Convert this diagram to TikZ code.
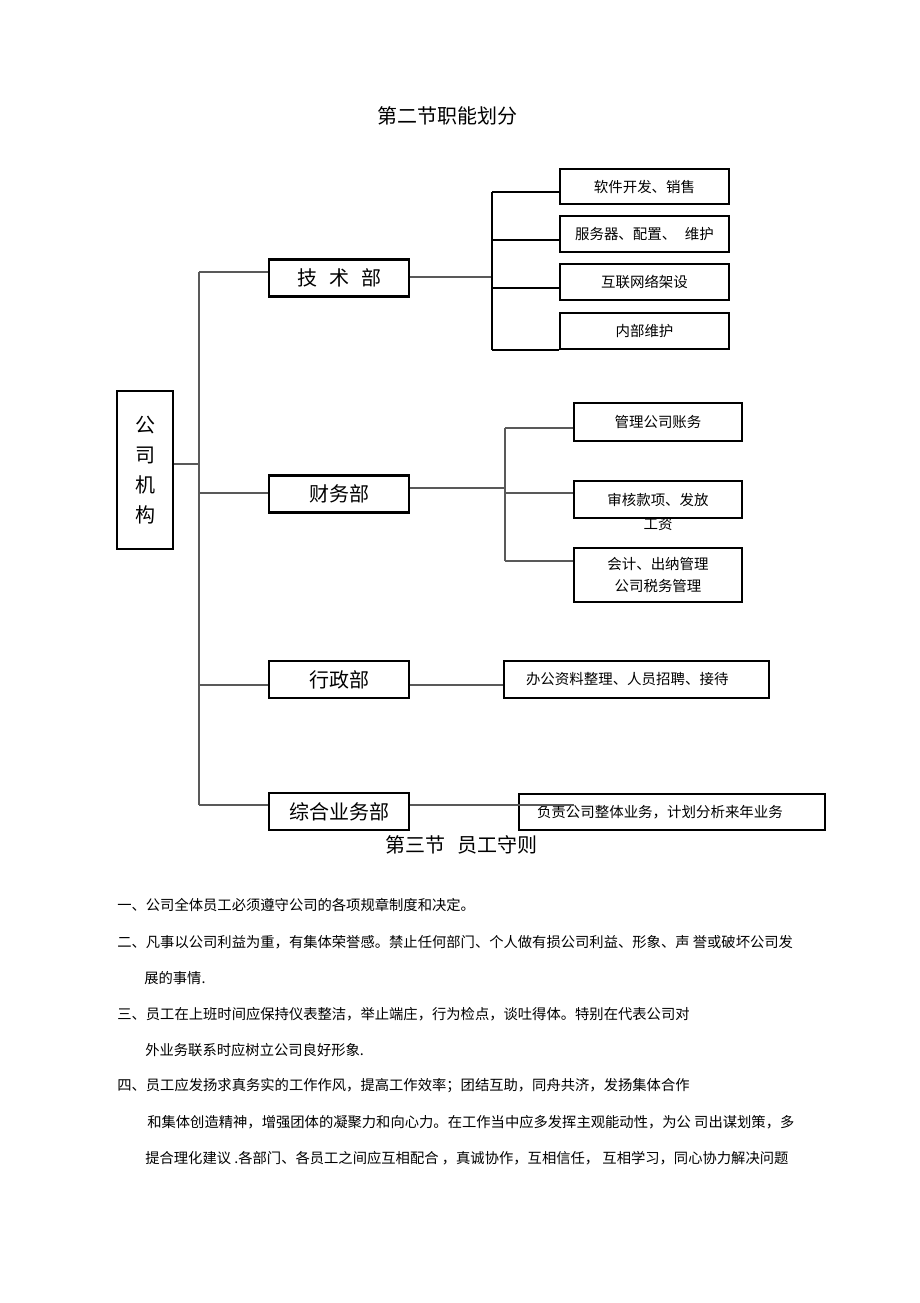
\documentclass[tikz,border=0pt]{standalone}
\usepackage{fontspec}
\setmainfont{Noto Sans CJK SC}
\def\pxu{0.65pt}

\begin{document}
\begin{tikzpicture}[x=0.65pt, y=-0.65pt,
  dept/.style={draw, line width=1.4pt, inner sep=0pt, minimum width=140*\pxu, minimum height=37*\pxu, font=\fontsize{13}{15}\selectfont},
  duty/.style={draw, line width=1.4pt, inner sep=0pt, align=center, font=\fontsize{9.4}{14.3}\selectfont},
  link/.style={draw=black!65, line width=0.7pt},
  bus/.style={draw=black, line width=1.2pt},
  para/.style={anchor=west, inner sep=0pt, font=\fontsize{9.3}{11}\selectfont},
  head/.style={inner sep=0pt, font=\fontsize{13}{15}\selectfont}]
\useasboundingbox (0,0) rectangle (920,1303);

\node[head] (title) at (447,116) {第二节职能划分};

\node[draw, line width=1.4pt, inner sep=0pt, minimum width=56*\pxu, minimum height=158*\pxu, align=center, font=\fontsize{13}{19.5}\selectfont] (org) at (145,470) {公\\司\\机\\构};

\node[dept] (tech) at (339,278) {技\hspace{0.6em}术\hspace{0.6em}部};
\node[dept] (fin) at (339,494) {财务部};
\node[dept] (adm) at (339,679.5) {行政部};
\node[dept] (biz) at (339,811.5) {综合业务部};

\coordinate (jorg) at (199,464);
\coordinate (jtech) at (199,272);
\coordinate (jfin) at (199,493);
\coordinate (jadm) at (199,685);
\coordinate (jbiz) at (199,805);
\draw[link] (jtech) -- (jbiz);
\draw[link] (org.east |- jorg) -- (jorg);
\foreach \d/\j in {tech/jtech, fin/jfin, adm/jadm, biz/jbiz}
  \draw[link] (\j) -- (\d.west |- \j);

%-------------------------------------
\node[duty, minimum width=169*\pxu, minimum height=35*\pxu] (t1) at (644.5,186.5) {软件开发、销售};
\node[duty, minimum width=169*\pxu, minimum height=36*\pxu] (t2) at (644.5,234) {服务器、配置、\hspace{0.6em}维护};
\node[duty, minimum width=169*\pxu, minimum height=36*\pxu] (t3) at (644.5,282) {互联网络架设};
\node[duty, minimum width=169*\pxu, minimum height=36*\pxu] (t4) at (644.5,331) {内部维护};

\coordinate (ktech) at (492,277);
\draw[link] (tech.east |- ktech) -- (ktech);
\foreach \n/\y in {t1/192, t2/240, t3/288, t4/350}{
  \coordinate (k\n) at (492,\y);
  \draw[bus] (k\n) -- (\n.west |- k\n);
}
\draw[bus] (kt1) -- (kt4);

%-------------------------------------
\node[duty, minimum width=168*\pxu, minimum height=38*\pxu] (f1) at (658,422) {管理公司账务};
\node[inner sep=0pt, font=\fontsize{9.4}{11}\selectfont] (f2tail) at (658,524) {工资};
\node[duty, minimum width=168*\pxu, minimum height=37*\pxu] (f2) at (658,499.5) {审核款项、发放};
\node[duty, minimum width=168*\pxu, minimum height=54*\pxu] (f3) at (658,575) {会计、出纳管理\\公司税务管理};

\coordinate (kfin) at (505,488);
\draw[link] (fin.east |- kfin) -- (kfin);
\foreach \n/\y in {f1/428, f2/493, f3/561}{
  \coordinate (k\n) at (505,\y);
  \draw[link] (k\n) -- (\n.west |- k\n);
}
\draw[link] (kf1) -- (kf3);

%-------------------------------------
\node[duty, minimum width=265*\pxu, minimum height=37*\pxu, text width=221*\pxu, inner xsep=22*\pxu, align=left] (a1) at (636.5,679.5) {办公资料整理、人员招聘、接待};
\node[duty, minimum width=306*\pxu, minimum height=36*\pxu, text width=270*\pxu, inner xsep=18*\pxu, align=left] (b1) at (672,812) {负责公司整体业务，计划分析来年业务};

\draw[link] (adm.east |- jadm) -- (a1.west |- jadm);
\coordinate (bizend) at (574,805);
\draw[link] (biz.east |- jbiz) -- (bizend);

%-------------------------------------
\node[head] (rules) at (461,845) {第三节\hspace{0.6em}员工守则};

\node[para] (r1) at (117,905) {一、公司全体员工必须遵守公司的各项规章制度和决定。};
\node[para] (r2) at (117,942) {二、凡事以公司利益为重，有集体荣誉感。禁止任何部门、个人做有损公司利益、形象、声 誉或破坏公司发};
\node[para] (r2b) at (144,978) {展的事情.};
\node[para] (r3) at (117,1014) {三、员工在上班时间应保持仪表整洁，举止端庄，行为检点，谈吐得体。特别在代表公司对};
\node[para] (r3b) at (145,1050) {外业务联系时应树立公司良好形象.};
\node[para] (r4) at (117,1086) {四、员工应发扬求真务实的工作作风，提高工作效率；团结互助，同舟共济，发扬集体合作};
\node[para] (r4b) at (147,1122) {和集体创造精神，增强团体的凝聚力和向心力。在工作当中应多发挥主观能动性，为公 司出谋划策，多};
\node[para] (r4c) at (145,1158) {提合理化建议 .各部门、各员工之间应互相配合 ，真诚协作，互相信任， 互相学习，同心协力解决问题};
\end{tikzpicture}
\end{document}
